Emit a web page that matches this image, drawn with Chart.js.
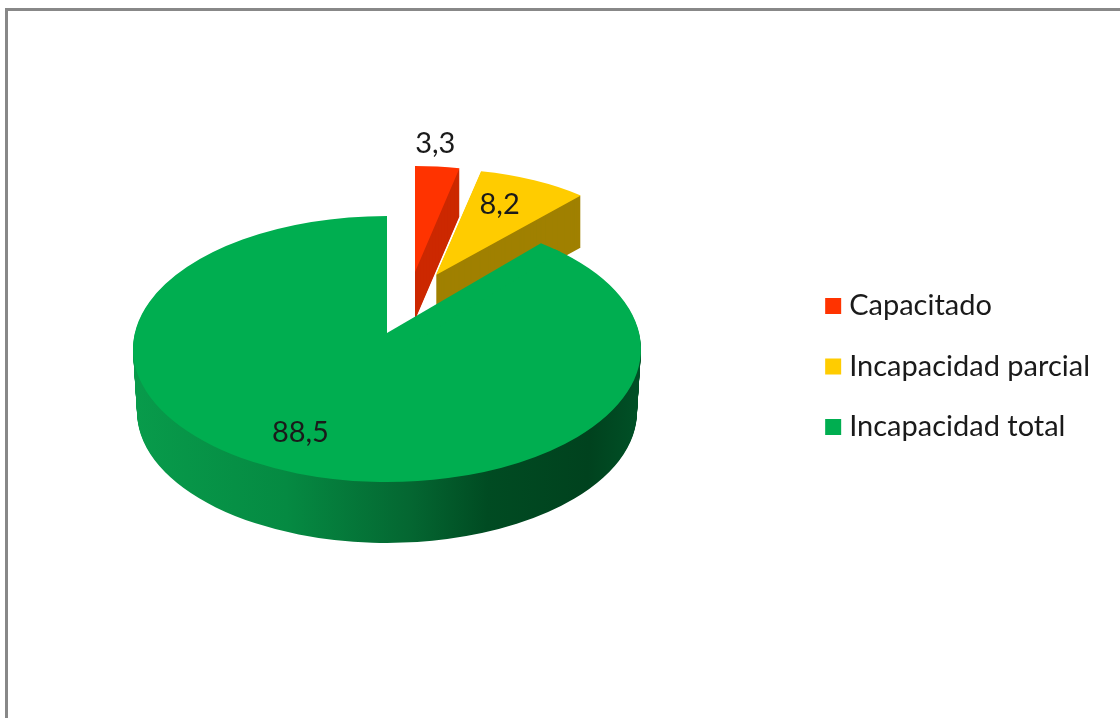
<!DOCTYPE html>
<html>
<head>
<meta charset="utf-8">
<title>Capacidad</title>
<script src="https://cdn.jsdelivr.net/npm/chart.js@4/dist/chart.umd.min.js"></script>
<style>
  html, body { margin: 0; background: #fff; }
  canvas { display: block; }
</style>
</head>
<body>
<canvas id="pieChart" width="1120" height="718"></canvas>
<script>
const categories = ['Capacitado', 'Incapacidad parcial', 'Incapacidad total'];
const percentages = [3.3, 8.2, 88.5];
const sliceColors = ['#FF3300', '#FFCC00', '#00AE50'];

// How each slice sits on the page: the flattened disc, its extrusion and its label
const sliceLook = [
    { cx: 415, cy: 272, rx: 216, ry: 106, depth: 48, shrink: 0, wall: '#CC2900', labelAt: 1.22, labelDx: -7 },
    { cx: 436, cy: 275, rx: 219, ry: 106, depth: 52, shrink: 0, wall: '#A08000', labelAt: 0.74, labelDx: -9 },
    { cx: 387, cy: 349, rx: 254, ry: 133, depth: 63, shrink: 0.016, labelAt: 0.675, labelDx: -26 }
];
// The real pie was drawn in perspective, so the apex of the big slice sits above the ellipse centre
const apexLift = 16;
const rimPull = 4.1 * Math.PI / 180;

function greenWall(ctx, arc) {
    const g = ctx.createLinearGradient(arc.x - arc.outerRadius, 0, arc.x + arc.outerRadius, 0);
    g.addColorStop(0, '#089B4B');
    g.addColorStop(0.3, '#058A42');
    g.addColorStop(0.55, '#046631');
    g.addColorStop(0.7, '#004B22');
    g.addColorStop(0.9, '#00421E');
    g.addColorStop(1, '#005026');
    return g;
}

const framePlugin = {
    id: 'frame',
    beforeDraw(chart) {
        const ctx = chart.ctx;
        ctx.save();
        ctx.strokeStyle = '#888888';
        ctx.lineWidth = 3;
        ctx.beginPath();
        ctx.moveTo(6.5, chart.height + 5);
        ctx.lineTo(6.5, 9.5);
        ctx.lineTo(chart.width + 5, 9.5);
        ctx.stroke();
        ctx.restore();
    }
};

const pie3dPlugin = {
    id: 'pie3d',
    beforeDatasetDraw(chart, args) {
        const ctx = chart.ctx;
        args.meta.data.forEach((arc, i) => {
            const look = sliceLook[i];
            const sx = look.rx / arc.outerRadius;
            const sy = look.ry / arc.outerRadius;
            const topOptions = arc.options;

            const place = (dy, k) => {
                ctx.translate(look.cx, look.cy + dy);
                ctx.scale(sx * k, sy * k);
                ctx.translate(-arc.x, -arc.y);
            };

            // side of the slice: the same arc stacked downwards
            arc.options = Object.assign(Object.create(topOptions), {
                backgroundColor: look.wall || greenWall(ctx, arc)
            });
            for (let d = look.depth; d > 0; d--) {
                ctx.save();
                place(d, 1 - look.shrink * d / look.depth);
                arc.draw(ctx);
                ctx.restore();
            }
            arc.options = topOptions;

            ctx.save();
            place(0, 1);
            arc.draw(ctx);
            if (i === 2) {
                const a = arc.startAngle - rimPull;
                ctx.fillStyle = sliceColors[i];
                ctx.beginPath();
                ctx.moveTo(arc.x, arc.y - apexLift / sy);
                ctx.lineTo(arc.x + Math.cos(a) * arc.outerRadius, arc.y + Math.sin(a) * arc.outerRadius);
                ctx.arc(arc.x, arc.y, arc.outerRadius, a, arc.startAngle + 0.03);
                // finish inside the slice so no seam shows along its edge
                ctx.lineTo(arc.x, arc.y + 10 / sy);
                ctx.closePath();
                ctx.fill();
            }
            ctx.restore();
        });
        return false;
    },
    afterDatasetsDraw(chart) {
        const ctx = chart.ctx;
        ctx.save();
        ctx.font = '29px Lato';
        ctx.fillStyle = '#1a1a1a';
        ctx.textAlign = 'center';
        ctx.textBaseline = 'middle';
        chart.getDatasetMeta(0).data.forEach((arc, i) => {
            const look = sliceLook[i];
            const mid = (arc.startAngle + arc.endAngle) / 2;
            const x = look.cx + Math.cos(mid) * look.rx * look.labelAt + look.labelDx;
            const y = look.cy + Math.sin(mid) * look.ry * look.labelAt;
            ctx.fillText(String(percentages[i]).replace('.', ','), x, y);
        });
        ctx.restore();
    }
};

new Chart(document.getElementById('pieChart'), {
    type: 'pie',
    data: {
        labels: categories,
        datasets: [{
            data: percentages,
            backgroundColor: sliceColors,
            borderWidth: 0
        }]
    },
    options: {
        responsive: false,
        animation: false,
        layout: { padding: { top: 15, right: 20 } },
        plugins: {
            tooltip: { enabled: false },
            legend: {
                position: 'right',
                labels: {
                    usePointStyle: true,
                    pointStyle: 'rect',
                    boxWidth: 3,
                    boxHeight: 16,
                    padding: 31.5,
                    color: '#1a1a1a',
                    font: { family: 'Lato', size: 29 }
                }
            }
        }
    },
    plugins: [framePlugin, pie3dPlugin]
});
</script>
</body>
</html>
